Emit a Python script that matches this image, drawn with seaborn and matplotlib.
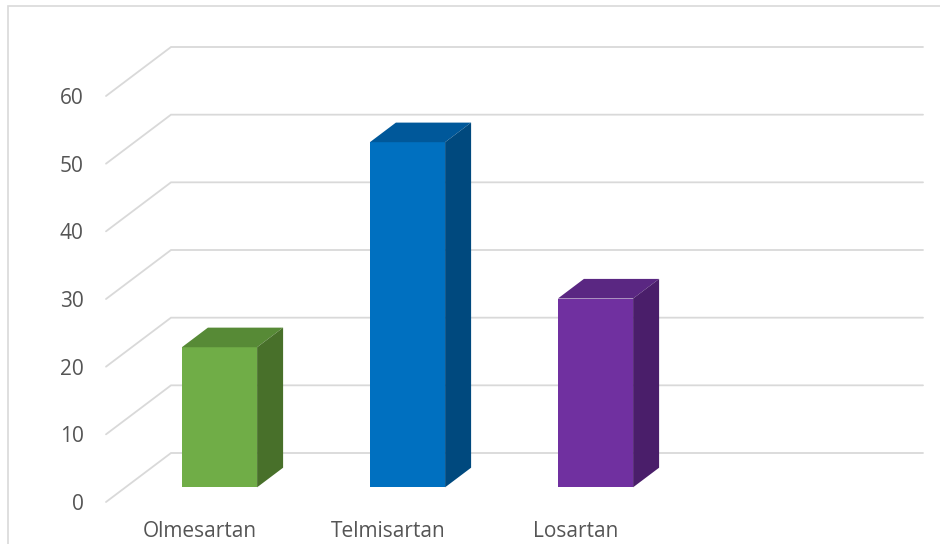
import matplotlib
matplotlib.use("Agg")
import matplotlib.pyplot as plt
import seaborn as sns
import pandas as pd
from matplotlib.patches import Polygon, Rectangle

categories = ["Olmesartan", "Telmisartan", "Losartan"]
values = [20.7, 51.0, 27.9]
front_colors = ["#70AD47", "#0070C0", "#7030A0"]
top_colors = ["#578A36", "#00589A", "#5A2782"]
side_colors = ["#48702A", "#00497E", "#4A1E6A"]
yticks = [0, 10, 20, 30, 40, 50, 60]

sns.set_theme(style="white")
plt.rcParams['font.family'] = ['Open Sans', 'DejaVu Sans']

W, H = 940, 544
fig = plt.figure(figsize=(W / 100, H / 100), dpi=100)
fig.patch.set_facecolor("white")

# front plane of the plot: x 106..858 px, y 96..502 px (from top)
ax_left, ax_right, ax_top, ax_bottom = 106, 858, 96, 502
ax = fig.add_axes([ax_left / W, (H - ax_bottom) / H,
                   (ax_right - ax_left) / W, (ax_bottom - ax_top) / H])
ax.set_facecolor("none")

df = pd.DataFrame({"drug": categories, "value": values})
sns.barplot(data=df, x="drug", y="value", hue="drug", order=categories,
            hue_order=categories, palette=front_colors, width=0.4,
            legend=False, ax=ax, saturation=1, linewidth=0, zorder=3)

ax.set_xlim(-0.5, 3.5)
ax.set_ylim(0, 60)

px_x = (ax_right - ax_left) / 4.0     # px per category unit
px_y = (ax_bottom - ax_top) / 60.0    # px per value unit

# oblique depth (px) converted to data units
DX, DY = 65 / px_x, 49 / px_y
fx, fy = 0.3 * DX, 0.3 * DY           # bar front offset
bx, by = 0.4 * DX, 0.4 * DY           # bar depth

# 3D grid: diagonal side-wall lines + back-wall lines
for v in yticks:
    ax.plot([-0.5, -0.5 + DX, 3.5 + DX], [v, v + DY, v + DY],
            color="#D9D9D9", lw=1.3, clip_on=False, zorder=0.5,
            solid_joinstyle="miter")

for p in ax.patches:
    cx = p.get_x() + p.get_width() / 2
    i = int(round(cx))
    p.set_x(p.get_x() + fx)
    p.set_y(fy)
    p.set_edgecolor("none")
    x0, x1 = p.get_x(), p.get_x() + p.get_width()
    y0, y1 = fy, fy + p.get_height()
    top = Polygon([(x0, y1), (x1, y1), (x1 + bx, y1 + by), (x0 + bx, y1 + by)],
                  closed=True, facecolor=top_colors[i], edgecolor="none",
                  zorder=3, clip_on=False)
    side = Polygon([(x1, y0), (x1 + bx, y0 + by), (x1 + bx, y1 + by), (x1, y1)],
                   closed=True, facecolor=side_colors[i], edgecolor="none",
                   zorder=3, clip_on=False)
    ax.add_patch(top)
    ax.add_patch(side)

ax.set_yticks(yticks)
ax.set_yticklabels([str(t) for t in yticks])
ax.set_xticks(range(len(categories)))
ax.set_xticklabels(categories)
ax.set_xlabel("")
ax.set_ylabel("")
for s in ax.spines.values():
    s.set_visible(False)
ax.tick_params(axis="both", length=0, colors="#555555", labelsize=15)
ax.tick_params(axis="y", pad=16)
ax.tick_params(axis="x", pad=14)
ax.grid(False)

# chart-area border (extends past right/bottom edges as in the reference)
fig.add_artist(Rectangle((8 / W, -0.1), 2, (H - 6) / H + 0.1,
                         transform=fig.transFigure, fill=False,
                         edgecolor="#D9D9D9", lw=1.2))

fig.savefig("out.png", dpi=100, facecolor="white")
